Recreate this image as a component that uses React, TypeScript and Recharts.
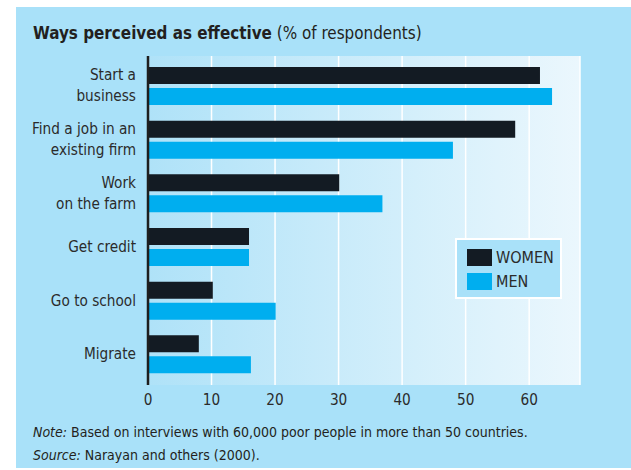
import React from 'react';
import { BarChart, Bar, XAxis, YAxis, CartesianGrid } from 'recharts';

const categories = [
  'Start a\nbusiness',
  'Find a job in an\nexisting firm',
  'Work\non the farm',
  'Get credit',
  'Go to school',
  'Migrate',
];
const women = [61.7, 57.8, 30.1, 15.9, 10.2, 8.0];
const men = [63.6, 48.0, 36.9, 15.9, 20.1, 16.2];
const xTicks = [0, 10, 20, 30, 40, 50, 60];
const seriesNames = ['WOMEN', 'MEN'];
const seriesColors = ['#131b23', '#00aeef'];

const data = categories.map((c, i) => ({ name: c, women: women[i], men: men[i] }));

const FONT = "'DejaVu Sans Condensed', 'Liberation Sans Narrow', 'Roboto', sans-serif";
const TEXT = '#2b2b2b';

const YTick = (props: any) => {
  const { x, y, payload } = props;
  const lines = String(payload.value).split('\n');
  const lh = 21;
  const start = -((lines.length - 1) * lh) / 2;
  return (
    <g>
      {lines.map((l, i) => (
        <text
          key={i}
          x={x - 4}
          y={y + start + i * lh}
          dy={5}
          textAnchor="end"
          fontFamily={FONT}
          fontSize={15.2}
          fill={TEXT}
        >
          {l}
        </text>
      ))}
    </g>
  );
};

export default function App() {
  return (
    <div style={{ position: 'absolute', left: 0, top: 0, width: 631, height: 470, background: '#fff', fontFamily: FONT }}>
      <div style={{ position: 'absolute', left: 16, top: 7, width: 615, height: 461, background: '#a9e1f9' }} />
      <div style={{ position: 'absolute', left: 33, top: 23, fontSize: 16.9, color: '#231f20', whiteSpace: 'nowrap' }}>
        <span style={{ fontWeight: 'bold' }}>Ways perceived as effective</span> (% of respondents)
      </div>
      <div style={{ position: 'absolute', left: 0, top: 0 }}>
        <BarChart
          width={631}
          height={470}
          data={data}
          layout="vertical"
          margin={{ top: 56, right: 51, bottom: 55, left: 0 }}
          barSize={17}
          barGap={4}
        >
          <defs>
            <linearGradient id="plotGrad" x1="0" y1="0" x2="1" y2="0">
              <stop offset="0%" stopColor="#afe2f8" />
              <stop offset="100%" stopColor="#ebf7fd" />
            </linearGradient>
          </defs>
          <CartesianGrid horizontal={false} stroke="#ffffff" strokeWidth={1.5} fill="url(#plotGrad)" fillOpacity={1} />
          <XAxis
            type="number"
            domain={[0, 68]}
            ticks={xTicks}
            axisLine={false}
            tickLine={false}
            height={30}
            tick={{ fontFamily: FONT, fontSize: 15.2, fill: TEXT }}
            tickMargin={3}
          />
          <YAxis
            type="category"
            dataKey="name"
            width={148}
            tickLine={false}
            axisLine={{ stroke: '#1e1e1e', strokeWidth: 2.5 }}
            tick={<YTick />}
            interval={0}
            padding={{ top: 3, bottom: 4 }}
          />
          <Bar dataKey="women" fill={seriesColors[0]} isAnimationActive={false} />
          <Bar dataKey="men" fill={seriesColors[1]} isAnimationActive={false} />
        </BarChart>
      </div>
      <div
        style={{
          position: 'absolute',
          left: 455,
          top: 238,
          width: 103,
          height: 57,
          border: '2px solid #ffffff',
          background: '#a9e1f9',
        }}
      >
        {seriesNames.map((n, i) => (
          <div key={n} style={{ position: 'absolute', left: 10, top: 9 + i * 24, display: 'flex', alignItems: 'center' }}>
            <div style={{ width: 25, height: 17, background: seriesColors[i] }} />
            <span style={{ marginLeft: 4, fontSize: 16, color: TEXT, lineHeight: '17px' }}>{n}</span>
          </div>
        ))}
      </div>
      <div style={{ position: 'absolute', left: 33, top: 421, fontSize: 14, color: '#231f20', lineHeight: '23px', whiteSpace: 'nowrap' }}>
        <div><i>Note:</i> Based on interviews with 60,000 poor people in more than 50 countries.</div>
        <div><i>Source:</i> Narayan and others (2000).</div>
      </div>
    </div>
  );
}
